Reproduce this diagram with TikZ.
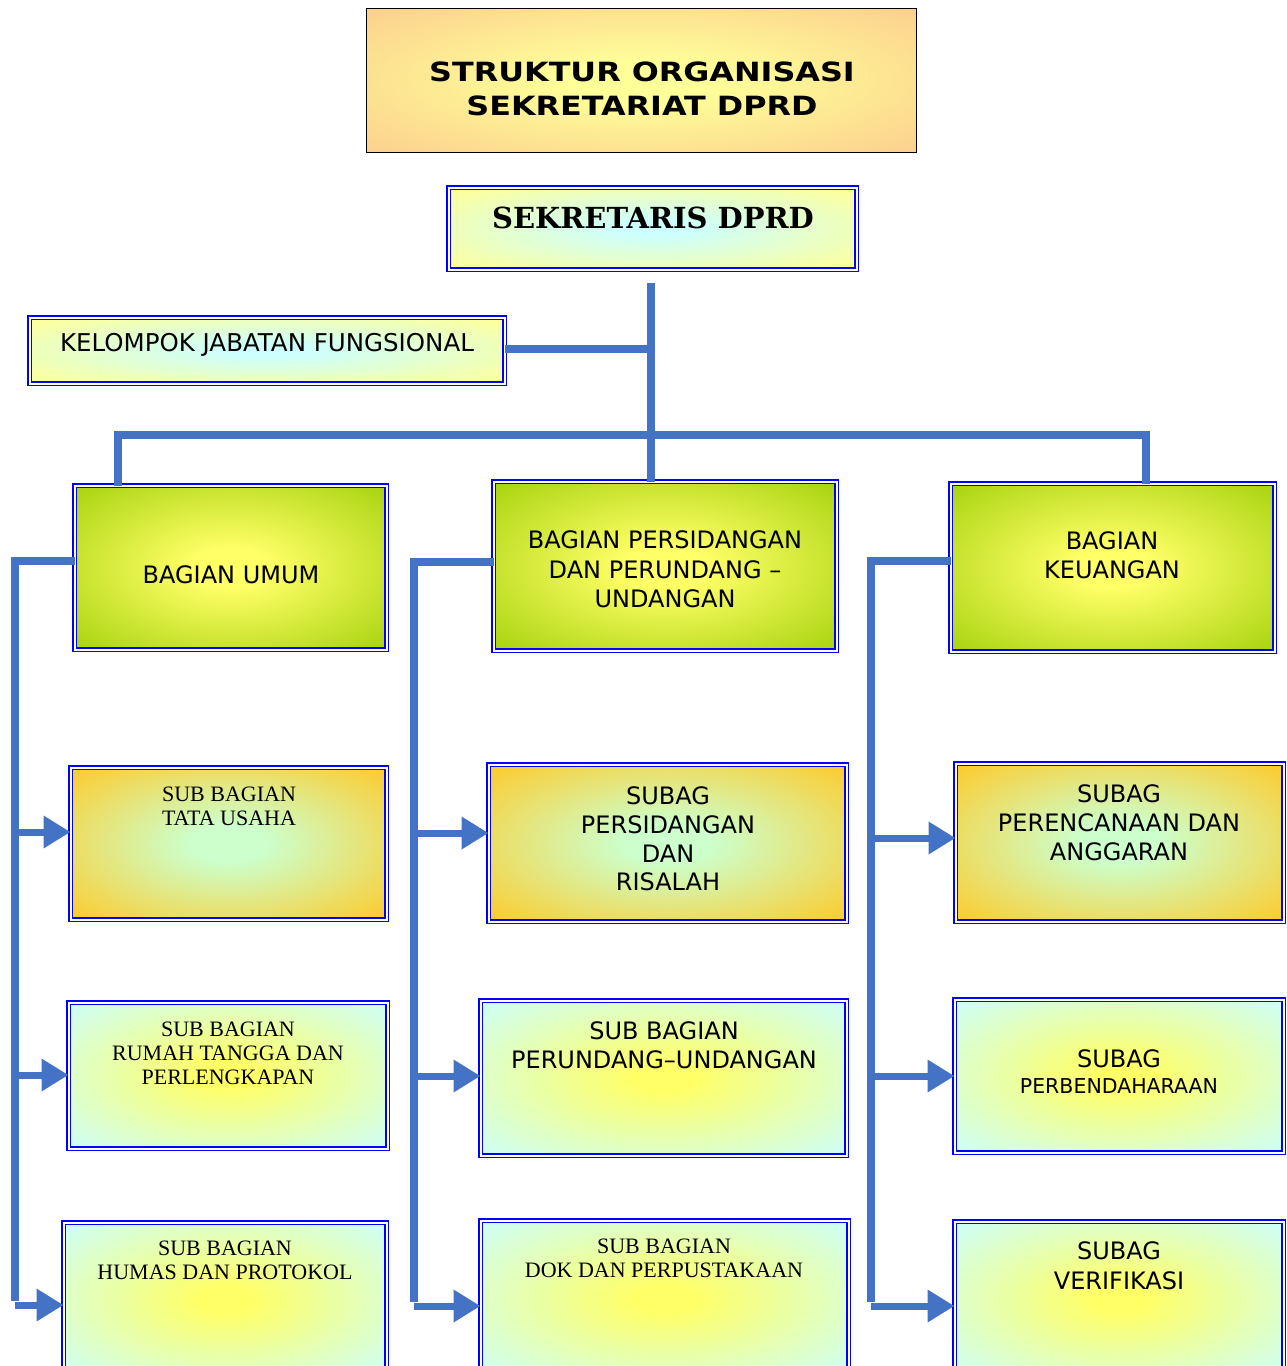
\documentclass[tikz,border=0pt]{standalone}
\usepackage{fontspec}
\setmainfont{DejaVu Sans}
\newfontfamily\serifA{Liberation Serif}
\newfontfamily\serifB{DejaVu Serif}
\usetikzlibrary{arrows.meta}
\definecolor{connc}{HTML}{4472C4}
\definecolor{tin}{HTML}{FFFF99}
\definecolor{tout}{HTML}{FBC98C}
\definecolor{sin}{HTML}{CCFFFF}
\definecolor{sout}{HTML}{FFFF99}
\definecolor{gin}{HTML}{FFFF66}
\definecolor{gout}{HTML}{99CC00}
\definecolor{oin}{HTML}{CCFFCC}
\definecolor{oout}{HTML}{FFC926}
\definecolor{cin}{HTML}{FFFF66}
\definecolor{cout}{HTML}{CCFFFF}
\pgfdeclareradialshading{titleglow}{\pgfpoint{0bp}{0bp}}{color(0bp)=(tin);color(6bp)=(tin);color(40bp)=(tout);color(75bp)=(tout)}
\pgfdeclareradialshading{sekglow}{\pgfpoint{0bp}{0bp}}{color(0bp)=(sin);color(4bp)=(sin);color(34bp)=(sout);color(75bp)=(sout)}
\pgfdeclareradialshading{greenglow}{\pgfpoint{0bp}{0bp}}{color(0bp)=(gin);color(6bp)=(gin);color(40bp)=(gout);color(75bp)=(gout)}
\pgfdeclareradialshading{orglow}{\pgfpoint{0bp}{0bp}}{color(0bp)=(oin);color(6bp)=(oin);color(36bp)=(oout);color(75bp)=(oout)}
\pgfdeclareradialshading{cyglow}{\pgfpoint{0bp}{0bp}}{color(0bp)=(cin);color(4bp)=(cin);color(36bp)=(cout);color(75bp)=(cout)}
\tikzset{
  box/.style={draw=blue, double=white, double distance=2pt, line width=1.8pt, inner sep=0pt, outer sep=0pt},
  conn line/.style={draw=connc, line width=8pt, line join=miter},
  arr/.style={draw=connc, fill=connc, line width=7pt, -{Triangle[length=27pt 0 0,width=31pt 0 0]}},
  txt/.style={align=center, inner sep=0pt, text=black},
  sans24/.style={font=\fontsize{24}{29}\selectfont},
  serif22/.style={font=\serifA\fontsize{22}{23.5}\selectfont},
}
\begin{document}
\begin{tikzpicture}[x=1pt,y=-1pt]
\useasboundingbox (0,0) rectangle (1286,1366);
\fill[white] (0,0) rectangle (1286,1366);

% title
\node[draw=black, line width=1.5pt, shading=titleglow, minimum width=550pt, minimum height=144pt, inner sep=0pt] (title) at (641.5,80.5) {};
\begin{scope}[shift={(642,89)}, xscale=1.2, transform shape]
\node[txt, font=\bfseries\fontsize{26.5}{34}\selectfont] (titletext) at (0,0) {STRUKTUR ORGANISASI\\SEKRETARIAT DPRD};
\end{scope}

% boxes
\node[box, shading=sekglow, minimum width=408pt, minimum height=82pt] (sek) at (652.5,228.5) {};
\node[txt, font=\serifB\bfseries\fontsize{29}{34}\selectfont] (sekt) at (653,218) {SEKRETARIS DPRD};

\node[box, shading=sekglow, minimum width=475pt, minimum height=66pt] (kel) at (267,350.5) {};
\node[txt, font=\fontsize{24.5}{29}\selectfont] (kelt) at (267,345) {KELOMPOK JABATAN FUNGSIONAL};

\node[box, shading=greenglow, minimum width=312pt, minimum height=164pt] (umum) at (230.5,567.5) {};
\node[txt, sans24] (umumt) at (231,575) {BAGIAN UMUM};

\node[box, shading=greenglow, minimum width=343pt, minimum height=169pt] (pers) at (665,566) {};
\node[txt, font=\fontsize{24}{29.5}\selectfont] (perst) at (665,569.5) {BAGIAN PERSIDANGAN\\DAN PERUNDANG –\\UNDANGAN};

\node[box, shading=greenglow, minimum width=324pt, minimum height=168pt] (keu) at (1112.5,567.5) {};
\node[txt, sans24] (keut) at (1112,555.5) {BAGIAN\\KEUANGAN};

\node[box, shading=orglow, minimum width=316pt, minimum height=152pt] (tu) at (228.5,843.5) {};
\node[txt, serif22] (tut) at (229,806.5) {SUB BAGIAN\\TATA USAHA};

\node[box, shading=orglow, minimum width=358pt, minimum height=157pt] (ris) at (667.5,843) {};
\node[txt, font=\fontsize{24}{28.7}\selectfont] (rist) at (668,839) {SUBAG\\PERSIDANGAN\\DAN\\RISALAH};

\node[box, shading=orglow, minimum width=328pt, minimum height=158pt] (ang) at (1119.5,842.5) {};
\node[txt, sans24] (angt) at (1119,823) {SUBAG\\PERENCANAAN DAN\\ANGGARAN};

\node[box, shading=cyglow, minimum width=319pt, minimum height=146pt] (rt) at (228,1075.5) {};
\node[txt, font=\serifA\fontsize{22}{24}\selectfont] (rtt) at (228,1053) {SUB BAGIAN\\RUMAH TANGGA DAN\\PERLENGKAPAN};

\node[box, shading=cyglow, minimum width=366pt, minimum height=155pt] (pu) at (663.5,1078) {};
\node[txt, sans24] (put) at (664,1045.5) {SUB BAGIAN\\PERUNDANG–UNDANGAN};

\node[box, shading=cyglow, minimum width=329pt, minimum height=153pt] (bend) at (1119,1076) {};
\node[txt, sans24] (bendt1) at (1119,1059) {SUBAG};
\node[txt, font=\fontsize{20.5}{24}\selectfont] (bendt2) at (1119,1086) {PERBENDAHARAAN};

\node[box, shading=cyglow, minimum width=323pt, minimum height=155pt] (hum) at (225,1300) {};
\node[txt, serif22] (humt) at (225,1260.5) {SUB BAGIAN\\HUMAS DAN PROTOKOL};

\node[box, shading=cyglow, minimum width=368pt, minimum height=157pt] (dok) at (664.5,1299) {};
\node[txt, serif22] (dokt) at (664,1258.5) {SUB BAGIAN\\DOK DAN PERPUSTAKAAN};

\node[box, shading=cyglow, minimum width=329pt, minimum height=156pt] (ver) at (1119,1299.5) {};
\node[txt, font=\fontsize{24}{30}\selectfont] (vert) at (1119,1266) {SUBAG\\VERIFIKASI};

% connectors
\coordinate (v0) at (651,283);
\draw[conn line] (v0) -- (v0 |- pers.north);
\coordinate (k0) at (655,349);
\draw[conn line] (k0 -| kel.east) -- (k0);
\coordinate (bl) at (118,435);
\coordinate (br) at (1146,435);
\draw[conn line] (bl |- umum.north) -- (bl) -- (br) -- (br |- keu.north);

% left column
\coordinate (L0) at (15,561);
\coordinate (L1) at (15,832);
\coordinate (L2) at (15,1075);
\coordinate (L3) at (15,1305);
\draw[conn line] (L0 -| umum.west) -- (L0) -- ([yshift=4pt]L3);
\draw[arr] (L1) -- (L1 -| tu.west);
\draw[arr] (L2) -- (L2 -| rt.west);
\draw[arr] (L3) -- (L3 -| hum.west);

% middle column
\coordinate (M0) at (414,562);
\coordinate (M1) at (414,833);
\coordinate (M2) at (414,1076);
\coordinate (M3) at (414,1306);
\draw[conn line] (M0 -| pers.west) -- (M0) -- ([yshift=4pt]M3);
\draw[arr] (M1) -- (M1 -| ris.west);
\draw[arr] (M2) -- (M2 -| pu.west);
\draw[arr] (M3) -- (M3 -| dok.west);

% right column
\coordinate (R0) at (871,561);
\coordinate (R1) at (871,838);
\coordinate (R2) at (871,1076);
\coordinate (R3) at (871,1306);
\draw[conn line] (R0 -| keu.west) -- (R0) -- ([yshift=4pt]R3);
\draw[arr] (R1) -- (R1 -| ang.west);
\draw[arr] (R2) -- (R2 -| bend.west);
\draw[arr] (R3) -- (R3 -| ver.west);
\end{tikzpicture}
\end{document}
